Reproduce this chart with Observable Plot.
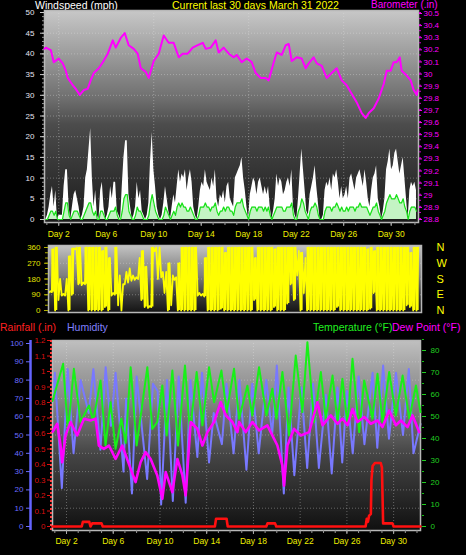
<!DOCTYPE html>
<html><head><meta charset="utf-8">
<script src="https://cdn.jsdelivr.net/npm/d3@7"></script>
<script src="https://cdn.jsdelivr.net/npm/@observablehq/plot@0.6"></script>
<style>
html,body{margin:0;padding:0;background:#000;}
#root{position:relative;width:466px;height:555px;overflow:hidden;background:#000;font-family:"Liberation Sans",Arial,sans-serif;}
.bg,.layer,.t{position:absolute;}
.layer{left:0;}
.layer svg{display:block;background:transparent !important;overflow:visible;}
.t{font-size:10.5px;line-height:1;white-space:nowrap;}
</style></head>
<body><div id="root">
<div class="bg" style="left:44px;top:10px;width:374px;height:212px;background:linear-gradient(#c8c8c8 0%,#a0a0a0 19%,#6e6e6e 42%,#4c4c4c 54%,#393939 71%,#262626 90%,#1a1a1a 100%)"></div>
<div class="bg" style="left:48px;top:245px;width:373px;height:67px;background:linear-gradient(#c4c4c4 0%,#9a9a9a 25%,#808080 45%,#3a3a3a 75%,#151515 100%)"></div>
<div class="bg" style="left:52px;top:340px;width:368px;height:190px;background:linear-gradient(#c0c0c0 0%,#a0a0a0 16%,#858585 32%,#636363 47%,#454545 60%,#333333 74%,#222222 87%,#101010 100%)"></div>
<div class="t" style="left:35px;top:0px;color:#ffffff">Windspeed (mph)</div>
<div class="t" style="left:172px;top:0px;color:#ffff00">Current last 30 days March 31 2022</div>
<div class="t" style="left:371px;top:0px;font-size:10px;color:#ff00ff">Barometer (.in)</div>
<div class="t" style="left:0px;top:322px;color:#ff2020">Rainfall (.in)</div>
<div class="t" style="left:67px;top:322px;color:#8080ff">Humidity</div>
<div class="t" style="left:313px;top:322px;color:#20f020">Temperature (°F)</div>
<div class="t" style="left:392px;top:322px;color:#ff00ff">Dew Point (°F)</div>
</div>
<script>
// ---------- data ----------
const dayTicks = [2, 6, 10, 14, 18, 22, 26, 30];
const dayGridWind = [2, 10, 18, 26];
const windTicks = [0, 5, 10, 15, 20, 25, 30, 35, 40, 45, 50];
const baroTicks = [28.8, 28.9, 29, 29.1, 29.2, 29.3, 29.4, 29.5, 29.6, 29.7, 29.8, 29.9, 30, 30.1, 30.2, 30.3, 30.4, 30.5];
const dirTicks = [0, 90, 180, 270, 360];
const compass = {0: "N", 90: "E", 180: "S", 270: "W", 360: "N"};
const humTicks = [0, 10, 20, 30, 40, 50, 60, 70, 80, 90, 100];
const rainTicks = [0, 0.1, 0.2, 0.3, 0.4, 0.5, 0.6, 0.7, 0.8, 0.9, 1, 1.1, 1.2];
const tempTicks = [0, 10, 20, 30, 40, 50, 60, 70, 80];

// wind samples: start day and sampling step (days)
const windStart = 0.77, windStep = 0.14;
const gustMph = [
0,0,1,3,6,8,3,7,0,1, 1,1,8,12,12,3,0,3,6,7, 5,3,0,1,3,10,12,17,22,10,
3,7,1,0,7,9,3,0,1,3, 8,5,9,9,2,1,0,8,15,19, 19,6,3,0,1,3,9,5,7,2,
1,0,1,4,14,21,12,8,3,1, 0,1,4,8,5,2,0,3,6,4, 8,12,9,11,10,12,7,10,12,9,
3,1,0,3,7,9,8,12,9,8, 7,10,8,12,5,3,6,5,7,4, 8,9,5,4,
3,10,11,12,13,15,10,7,3,0, 6,8,10,9,6,9,10,8,6,8, 6,8,3,0,2,5,11,8,10,9,
6,7,9,10,8,12,3,1,0,5, 11,17,12,7,2,1,6,8,10,13, 8,4,0,0,1,7,9,8,10,7,
11,10,12,9,5,8,5,6,8,5, 10,11,9,7,10,11,12,10,8,12, 9,5,3,7,10,11,13,5,3,0,
2,5,12,14,17,12,13,16,17,14, 11,13,15,10,5,0,7,9,8,9, 7];
const avgMph = [
0,0,0,1,2,2,1,2,0,0, 0,0,2,4,4,1,0,1,2,2, 2,1,0,0,1,2,3,4,4,2,
1,2,0,0,2,2,1,0,0,1, 2,2,2,3,1,0,0,2,5,6, 6,2,1,0,0,1,3,2,2,1,
0,0,0,1,4,6,4,2,1,0, 0,0,1,3,2,1,0,1,2,1, 3,4,3,4,3,3,2,2,3,2,
1,0,0,1,3,3,3,4,3,3, 2,3,3,4,2,1,2,2,3,2, 3,3,2,2,
1,3,4,4,4,5,3,2,1,0, 2,3,3,3,2,3,3,3,2,3, 2,3,1,0,1,2,3,3,3,3,
2,2,3,3,3,4,1,0,0,2, 3,5,4,2,1,0,2,3,3,4, 3,1,0,0,0,2,3,3,3,2,
3,3,4,3,2,3,2,2,3,2, 3,3,3,2,3,3,4,3,3,3, 3,2,1,2,3,3,4,2,1,0,
1,2,4,5,6,5,5,5,6,5, 4,4,5,3,2,0,2,3,3,3, 2];

// barometer [day, inches]
const baro = [[0.8,30.2],[0.91,30.21],[1.33,30.19],[1.58,30.09],[2.0,30.12],[2.34,30.08],[2.59,30.02],[2.76,29.96],[3.18,29.90],[3.43,29.87],[3.77,29.82],[4.11,29.86],[4.44,29.87],[4.69,29.94],[4.95,30.0],[5.37,30.04],[5.71,30.09],[6.13,30.16],[6.55,30.27],[6.8,30.21],[7.22,30.29],[7.56,30.33],[7.89,30.23],[8.32,30.2],[8.65,30.16],[8.91,30.04],[9.33,30.01],[9.58,29.96],[10.0,30.1],[10.42,30.16],[10.84,30.31],[11.26,30.25],[11.68,30.25],[12.11,30.13],[12.44,30.16],[12.86,30.16],[13.28,30.21],[13.71,30.23],[14.13,30.25],[14.38,30.2],[14.8,30.21],[15.22,30.27],[15.47,30.17],[15.89,30.21],[16.32,30.16],[16.74,30.13],[16.99,30.15],[17.41,30.09],[17.83,30.12],[18.25,30.09],[18.59,30.0],[19.01,29.96],[19.43,29.96],[19.68,29.94],[20.11,30.09],[20.36,30.17],[20.78,30.15],[21.12,30.23],[21.37,30.24],[21.62,30.1],[22.04,30.13],[22.46,30.12],[22.8,30.04],[23.05,30.08],[23.47,30.13],[23.73,30.08],[24.15,30.06],[24.57,29.96],[24.99,30.0],[25.41,30.04],[25.83,29.94],[26.25,29.9],[26.67,29.83],[27.09,29.76],[27.52,29.67],[27.85,29.63],[28.11,29.67],[28.53,29.71],[28.95,29.79],[29.37,29.91],[29.62,30.02],[29.96,30.02],[30.21,30.09],[30.46,30.09],[30.72,30.13],[30.88,30.02],[31.31,29.98],[31.64,29.94],[31.89,29.86],[32.15,29.82],[32.23,29.86]];

// wind direction: per-bin low/high degrees
const dirStart = 0.8, dirStep = 0.28;
const dirLo = [100,105,0,60,85,85,0,90,350,150, 145,150,0,0,0,0,0,20,0,85, 90,30,0,150,160,170,175,180,60,20,
15,20,340,180,190,100,0,30,175,0, 0,0,0,0,0,85,85,80,0,0, 0,0,10,0,0,0,
0,0,0,0,0,0,60,0,0,0, 0,0,20,0,0,0,40,150,60,200, 0,100,0,0,0,0,0,0,0,0,
0,20,0,0,0,0,0,0,0,0, 0,10,100,0,0,0,0,0,0,0, 0,0,30,20,0,0];
const dirHi = [110,350,360,180,95,180,310,355,360,360, 160,360,360,360,360,360,340,360,300,100, 360,200,150,220,240,200,190,300,340,250,
25,360,360,360,220,220,270,200,190,270, 360,360,360,360,360,100,95,300,360,360, 360,360,360,330,360,360,
360,360,360,360,360,360,300,360,360,360, 360,360,350,360,360,360,360,360,360,340, 330,300,360,360,360,360,360,360,360,360,
360,360,360,360,360,360,360,360,360,360, 350,360,340,360,360,360,360,360,360,360, 360,360,360,330,360,360];

// humidity [day, %]
const humidity = [[0.8,68],[1.0,84],[1.6,21],[2.1,86],[2.6,40],[3.2,80],[3.9,62],[4.3,86],[4.9,42],[5.35,87],[5.8,55],[6.2,84],[6.88,30],[7.1,70],[7.6,18],[8.0,82],[8.9,26],[9.4,78],[9.8,74],[10.1,12],[10.6,80],[11.1,14],[11.6,82],[12.2,13],[12.6,80],[13.2,38],[13.6,84],[14.2,35],[14.6,62],[15.3,45],[15.7,78],[16.3,40],[16.8,80],[17.4,31],[17.9,78],[18.45,40],[19.1,80],[19.6,50],[20.0,88],[20.6,18],[21.0,76],[21.5,28],[22.1,76],[22.6,32],[23.1,78],[23.6,32],[24.2,72],[24.7,29],[25.2,76],[25.6,35],[26.0,74],[26.5,40],[27.0,82],[27.5,45],[28.2,84],[28.6,43],[29.1,88],[29.6,48],[30.2,84],[30.8,50],[31.3,86],[31.7,40],[32.3,56]];

// temperature [day, F]
const temperature = [[0.8,57],[1.71,74],[2.12,43],[2.63,71.7],[3.2,47.5],[3.92,55],[4.29,48],[4.91,66.4],[5.34,36.8],[5.77,56.5],[6.2,35.3],[6.69,49],[7.06,38],[7.49,72.4],[8.0,36.8],[8.92,72.4],[9.34,44.4],[9.77,47.5],[10.2,64.1],[10.57,41.4],[11.06,70.9],[11.54,36.8],[12.14,73.2],[12.57,42.9],[13.14,70.2],[13.63,46],[14.2,72.4],[14.63,56.5],[15.26,70.9],[15.71,52],[16.34,71.7],[16.77,49],[17.48,64],[17.9,50.5],[18.48,72.4],[19.11,50.5],[19.62,62.6],[19.97,49],[20.48,70.2],[21.05,41.4],[21.62,77.7],[22.19,52],[22.62,83.8],[23.19,47.5],[23.77,70.2],[24.19,49],[24.77,68.6],[25.2,47.5],[25.62,67.1],[26.05,46],[26.48,76.2],[27.05,42.9],[27.48,66.4],[28.19,49],[28.62,69.4],[29.05,47.5],[29.62,70.2],[30.19,50.5],[30.77,68.6],[31.34,49],[31.91,64.1],[32.3,52]];

// dew point [day, F]
const dewPoint = [[0.8,43],[1.2,46.7],[1.49,36.8],[1.63,29.2],[1.92,41.4],[2.34,47.5],[2.91,41.4],[3.49,49],[4.06,48.2],[4.49,49],[4.77,36.8],[5.2,35.3],[5.63,36.8],[6.2,30.7],[6.77,36.8],[7.49,26.2],[7.91,20.2],[8.34,29.2],[8.77,33.8],[9.2,30.7],[9.77,23.2],[10.2,12.6],[10.49,24.7],[11.06,15.6],[11.49,30.7],[11.92,23.2],[12.2,14.1],[12.63,47.5],[13.2,44.4],[13.63,36.8],[14.06,42.9],[14.63,47.5],[15.2,56.5],[15.63,50.5],[16.2,47.5],[16.63,42.9],[16.77,47.5],[17.34,42.9],[17.91,47.5],[18.48,43.7],[19.19,46],[19.62,41.4],[20.05,36.8],[20.48,27.7],[20.62,18.6],[20.91,36.8],[21.48,44.4],[22.05,41.4],[22.77,42.9],[23.48,56.5],[23.91,46],[24.62,50.5],[25.19,46.7],[25.62,49],[26.05,46],[26.48,53.4],[26.91,47.5],[27.48,49.8],[28.05,46.7],[28.62,48.2],[29.05,45.2],[29.62,52.7],[30.19,46],[30.62,48.2],[31.19,45.2],[31.62,50.5],[32.19,42.9]];

// rainfall [day, inches]
const rainfall = [[0.8,0],[3.3,0],[3.4,0.03],[3.95,0.03],[4.05,0],[4.2,0.02],[5.0,0.02],[5.1,0],[14.7,0],[14.8,0.05],[15.7,0.05],[15.8,0],[19.1,0],[19.2,0.02],[19.85,0.02],[19.95,0],[27.6,0],[27.7,0.05],[27.8,0.03],[27.9,0.07],[28.05,0.08],[28.1,0.3],[28.2,0.39],[28.4,0.41],[28.9,0.41],[29.0,0.38],[29.1,0.02],[29.9,0.02],[30.0,0],[32.3,0]];

// ---------- rendering ----------
const root = document.getElementById("root");
const xDomain = [0.8, 32.3];
const baseStyle = {background: "transparent", color: "#ffffff", fontFamily: "Liberation Sans, Arial, sans-serif", fontSize: "8px", overflow: "visible"};
function addLayer(top, chart) {
  const d = document.createElement("div");
  d.className = "layer";
  d.style.top = top + "px";
  d.appendChild(chart);
  root.appendChild(d);
}
const gridStyle = {stroke: "#e8e8e8", strokeOpacity: 0.35, strokeDasharray: "1,2"};
const dayLabel = d => "Day " + d;

// Panel 1: wind
const windRows = gustMph.map((g, i) => ({t: windStart + i * windStep, gust: g, avg: avgMph[i]}));
addLayer(0, Plot.plot({
  width: 466, height: 245, marginTop: 10, marginBottom: 23, marginLeft: 44, marginRight: 48,
  style: baseStyle,
  x: {domain: xDomain, range: [44, 418]},
  y: {domain: [0, 50], range: [219, 12]},
  marks: [
    Plot.ruleY(windTicks.slice(1, -1), gridStyle),
    Plot.ruleX(dayGridWind, gridStyle),
    Plot.areaY(windRows, {x: "t", y: "gust", fill: "#ffffff"}),
    Plot.areaY(windRows, {x: "t", y: "avg", fill: "#c4f4c4"}),
    Plot.lineY(windRows, {x: "t", y: "avg", stroke: "#18e018", strokeWidth: 1.2}),
    Plot.frame({stroke: "#b8b8b8", strokeWidth: 1.5}),
    Plot.axisY(d3.range(0, 51, 1), {tickSize: 2, fill: "none", stroke: "#999999"}),
    Plot.axisY(windTicks, {tickSize: 4, tickPadding: 6, stroke: "#cccccc", fill: "#e4e4f0", label: null}),
    Plot.axisX(d3.range(1, 33), {tickSize: 3, fill: "none", stroke: "#999999"}),
    Plot.axisX(dayTicks, {tickSize: 4, tickPadding: 4, tickFormat: dayLabel, stroke: "#aaaaaa", fill: "#eeee00", fontSize: 8.5, label: null})
  ]
}));
// Panel 1: barometer
addLayer(0, Plot.plot({
  width: 466, height: 245, marginTop: 10, marginBottom: 23, marginLeft: 44, marginRight: 48,
  style: baseStyle,
  x: {domain: xDomain, range: [44, 418], axis: null},
  y: {domain: [28.8, 30.5], range: [218, 12]},
  marks: [
    Plot.line(baro, {x: d => d[0], y: d => d[1], stroke: "#ff00ff", strokeWidth: 2}),
    Plot.axisY(d3.range(28.8, 30.52, 0.05), {anchor: "right", tickSize: 2, fill: "none", stroke: "#cc00cc"}),
    Plot.axisY(baroTicks, {anchor: "right", tickSize: 3, tickPadding: 2, dy: 1, stroke: "#ff00ff", fill: "#ff00ff", tickFormat: d => String(+d.toFixed(1)), label: null})
  ]
}));

// Panel 2: wind direction
const dirRows = dirLo.map((lo, i) => ({t: dirStart + i * dirStep, lo, hi: dirHi[i]}));
const dirZig = dirRows.flatMap(r => [
  {t: r.t, v: r.lo},
  {t: r.t + dirStep / 2, v: r.hi}
]);
addLayer(240, Plot.plot({
  width: 466, height: 78, marginTop: 5, marginBottom: 6, marginLeft: 48, marginRight: 45,
  style: baseStyle,
  x: {domain: xDomain, range: [48, 421], axis: null},
  y: {domain: [0, 360], range: [70, 7]},
  marks: [
    Plot.ruleY([90, 180, 270], gridStyle),
    Plot.rect(dirRows.filter(r => r.hi - r.lo > 200), {x1: "t", x2: r => r.t + dirStep * 0.8, y1: "lo", y2: "hi", fill: "#ffff00", clip: true}),
    Plot.line(dirZig, {x: "t", y: "v", stroke: "#ffff00", strokeWidth: 1.8, clip: true}),
    Plot.frame({stroke: "#b8b8b8", strokeWidth: 1.5}),
    Plot.axisY(d3.range(0, 361, 30), {tickSize: 3, fill: "none", stroke: "#b0b000"}),
    Plot.axisY(dirTicks, {tickSize: 4, tickPadding: 4, stroke: "#b0b000", fill: "#e0e000", label: null}),
    Plot.axisY(dirTicks, {anchor: "right", tickSize: 0, tickPadding: 15, fill: "#ffff00", fontSize: 11, tickFormat: d => compass[d], label: null})
  ]
}));

// Panel 3: humidity + day axis (base)
addLayer(335, Plot.plot({
  width: 466, height: 220, marginTop: 5, marginBottom: 25, marginLeft: 52, marginRight: 46,
  style: baseStyle,
  x: {domain: xDomain, range: [52, 420]},
  y: {domain: [0, 100], range: [191, 8], axis: null},
  marks: [
    Plot.ruleY(humTicks.slice(1, -1), gridStyle),
    Plot.ruleX(dayTicks, gridStyle),
    Plot.line(humidity, {x: d => d[0], y: d => d[1], stroke: "#7878ff", strokeWidth: 2}),
    Plot.frame({stroke: "#b8b8b8", strokeWidth: 1.5}),
    Plot.axisX(d3.range(1, 33), {tickSize: 3, fill: "none", stroke: "#999999"}),
    Plot.axisX(dayTicks, {tickSize: 4, tickPadding: 3, tickFormat: dayLabel, stroke: "#aaaaaa", fill: "#eeee00", fontSize: 8.5, label: null})
  ]
}));
// Panel 3: temperature + dew point
addLayer(335, Plot.plot({
  width: 466, height: 220, marginTop: 5, marginBottom: 25, marginLeft: 52, marginRight: 45,
  style: baseStyle,
  x: {domain: xDomain, range: [52, 420], axis: null},
  y: {domain: [0, 80], range: [191, 15]},
  marks: [
    Plot.line(temperature, {x: d => d[0], y: d => d[1], stroke: "#18f018", strokeWidth: 2}),
    Plot.line(dewPoint, {x: d => d[0], y: d => d[1], stroke: "#ff00ff", strokeWidth: 2.6}),
    Plot.axisY(d3.range(0, 86, 5), {anchor: "right", tickSize: 2, fill: "none", stroke: "#10c010"}),
    Plot.axisY(tempTicks, {anchor: "right", tickSize: 4, tickPadding: 5, stroke: "#20d020", fill: "#20d020", label: null})
  ]
}));
// Panel 3: rainfall (axis at x=50)
addLayer(335, Plot.plot({
  width: 466, height: 220, marginTop: 5, marginBottom: 25, marginLeft: 50, marginRight: 46,
  style: baseStyle,
  x: {domain: xDomain, range: [52, 420], axis: null},
  y: {domain: [0, 1.2], range: [191, 5]},
  marks: [
    Plot.line(rainfall, {x: d => d[0], y: d => d[1], stroke: "#ff1010", strokeWidth: 2.6}),
    Plot.ruleX([xDomain[0]], {dx: -1.5, stroke: "#ff4040", strokeWidth: 2, strokeDasharray: "2,2"}),
    Plot.axisY(rainTicks, {tickSize: 3, tickPadding: 2, stroke: "#dd1010", fill: "#dd1010", tickFormat: d => String(+d.toFixed(1)), label: null})
  ]
}));
// Panel 3: humidity axis (x=30)
addLayer(335, Plot.plot({
  width: 466, height: 220, marginTop: 5, marginBottom: 25, marginLeft: 30, marginRight: 46,
  style: baseStyle,
  x: {domain: [0, 1], axis: null},
  y: {domain: [0, 100], range: [191, 8]},
  marks: [
    Plot.ruleX([0], {stroke: "#6464ff", strokeWidth: 2.5}),
    Plot.axisY(humTicks, {tickSize: 4, tickPadding: 3, stroke: "#6c6cff", fill: "#6c6cff", label: null})
  ]
}));
</script>
</body></html>
